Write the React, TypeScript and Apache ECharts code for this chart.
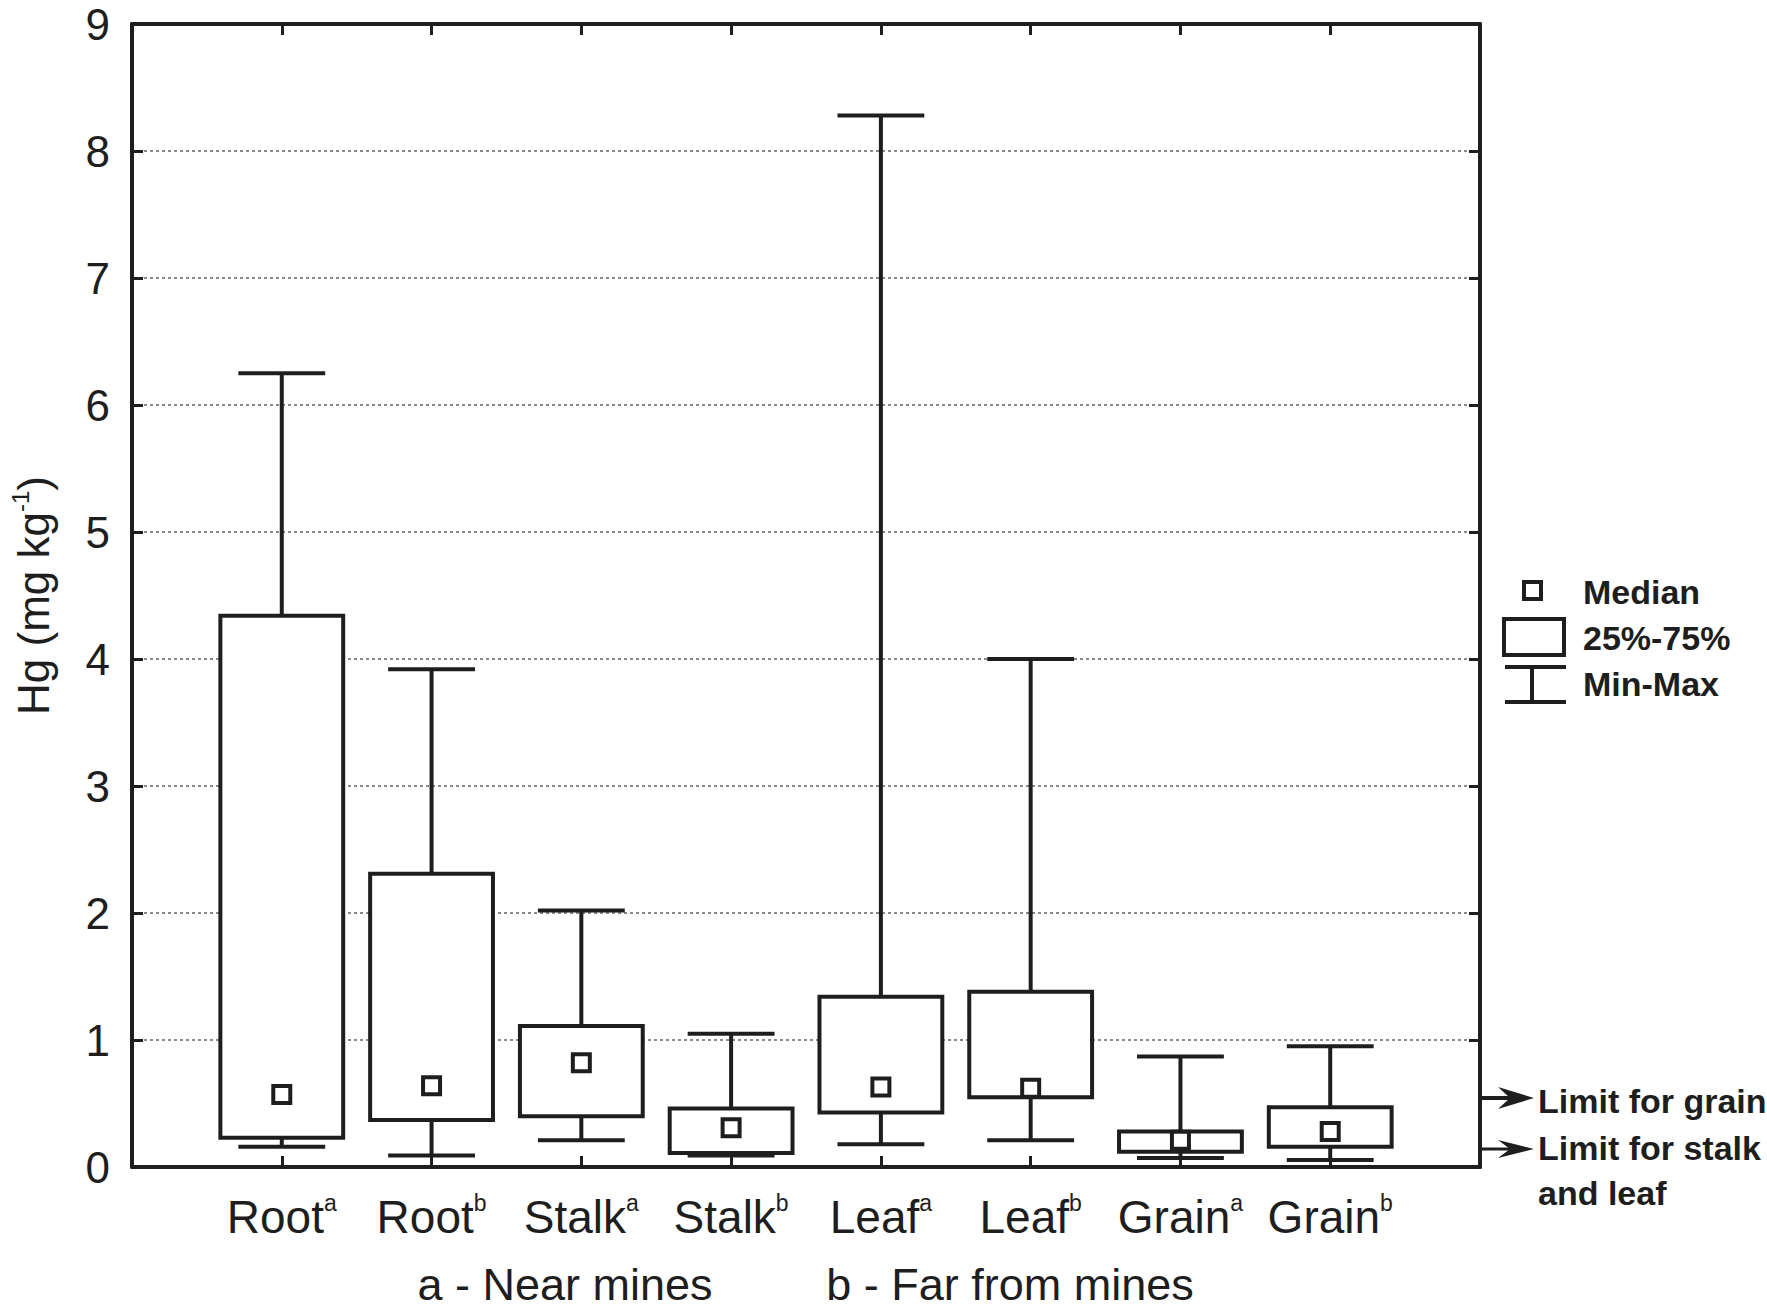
import React, { useEffect, useRef } from "react";
import * as echarts from "echarts";

const categories = ["Root", "Root", "Stalk", "Stalk", "Leaf", "Leaf", "Grain", "Grain"];
const groups = ["a", "b", "a", "b", "a", "b", "a", "b"];
const minVals = [0.16, 0.09, 0.21, 0.09, 0.18, 0.21, 0.07, 0.055];
const q1Vals = [0.23, 0.37, 0.4, 0.11, 0.43, 0.55, 0.12, 0.16];
const medianVals = [0.57, 0.64, 0.82, 0.31, 0.63, 0.62, 0.21, 0.28];
const q3Vals = [4.34, 2.31, 1.11, 0.46, 1.34, 1.38, 0.28, 0.47];
const maxVals = [6.25, 3.92, 2.02, 1.05, 8.28, 4.0, 0.87, 0.95];
const yMin = 0;
const yMax = 9;
const legendLabels = ["Median", "25%-75%", "Min-Max"];
const limitLabels = ["Limit for grain", "Limit for stalk", "and leaf"];
const groupNotes = ["a - Near mines", "b - Far from mines"];

const FONT = "'Liberation Sans', Arial, sans-serif";
const INK = "#1e1e1e";

export default function App() {
  const ref = useRef<HTMLDivElement>(null);
  useEffect(() => {
    document.body.style.margin = "0";
    const chart = echarts.init(ref.current!, null, { renderer: "svg" });
    const data = categories.map((_, i) => [i + 1, minVals[i], q1Vals[i], medianVals[i], q3Vals[i], maxVals[i]]);
    const lw = 4;
    const renderItem = (params: any, api: any) => {
      const x = api.value(0);
      const pMin = api.coord([x, api.value(1)]);
      const pQ1 = api.coord([x, api.value(2)]);
      const pMed = api.coord([x, api.value(3)]);
      const pQ3 = api.coord([x, api.value(4)]);
      const pMax = api.coord([x, api.value(5)]);
      const boxW = api.size([0.82, 0])[0];
      const capW = api.size([0.58, 0])[0];
      const cx = pQ1[0];
      const ls = { stroke: INK, lineWidth: lw, fill: null };
      const sq = 17;
      return {
        type: "group",
        children: [
          { type: "line", shape: { x1: cx, y1: pQ3[1], x2: cx, y2: pMax[1] }, style: ls },
          { type: "line", shape: { x1: cx, y1: pQ1[1], x2: cx, y2: pMin[1] }, style: ls },
          { type: "line", shape: { x1: cx - capW / 2, y1: pMax[1], x2: cx + capW / 2, y2: pMax[1] }, style: ls },
          { type: "line", shape: { x1: cx - capW / 2, y1: pMin[1], x2: cx + capW / 2, y2: pMin[1] }, style: ls },
          {
            type: "rect",
            shape: { x: cx - boxW / 2, y: pQ3[1], width: boxW, height: pQ1[1] - pQ3[1] },
            style: { stroke: INK, lineWidth: lw, fill: "#fff" },
          },
          {
            type: "rect",
            shape: { x: cx - sq / 2, y: pMed[1] - sq / 2, width: sq, height: sq },
            style: { stroke: INK, lineWidth: lw, fill: "#fff" },
          },
        ],
      };
    };
    const axisLine = { show: true, onZero: false, lineStyle: { color: INK, width: 4 } };
    const tick = { show: true, inside: true, length: 11, lineStyle: { color: INK, width: 3 } };
    const textBase = { fontFamily: FONT, color: INK };
    const legendX = 1583;
    const option: any = {
      animation: false,
      backgroundColor: "#fff",
      grid: { left: 132, right: 287, top: 24, bottom: 141, containLabel: false },
      xAxis: [
        {
          type: "value",
          min: 0,
          max: categories.length + 1,
          interval: 1,
          position: "bottom",
          axisLine,
          axisTick: tick,
          splitLine: { show: false },
          axisLabel: {
            margin: 24,
            formatter: (v: number) => {
              const i = Math.round(v) - 1;
              if (i < 0 || i >= categories.length) return "";
              return `{n|${categories[i]}}{s|${groups[i]}}`;
            },
            rich: {
              n: { ...textBase, fontSize: 46, lineHeight: 52 },
              s: { ...textBase, fontSize: 23, lineHeight: 34, verticalAlign: "top" },
            },
          },
        },
        {
          type: "value",
          min: 0,
          max: categories.length + 1,
          interval: 1,
          position: "top",
          axisLine,
          axisTick: tick,
          splitLine: { show: false },
          axisLabel: { show: false },
        },
      ],
      yAxis: [
        {
          type: "value",
          min: yMin,
          max: yMax,
          interval: 1,
          position: "left",
          axisLine,
          axisTick: tick,
          axisLabel: { ...textBase, fontSize: 44, margin: 22 },
          splitLine: { show: true, lineStyle: { color: "#8a8a8a", width: 2, type: [3, 3] } },
          name: "{n|Hg (mg kg}{s|-1}{n|)}",
          nameLocation: "middle",
          nameRotate: 90,
          nameGap: 74,
          nameTextStyle: {
            rich: {
              n: { ...textBase, fontSize: 44, lineHeight: 50 },
              s: { ...textBase, fontSize: 24, lineHeight: 30, verticalAlign: "top" },
            },
          },
        },
        {
          type: "value",
          min: yMin,
          max: yMax,
          interval: 1,
          position: "right",
          axisLine,
          axisTick: tick,
          axisLabel: { show: false },
          splitLine: { show: false },
        },
      ],
      series: [
        {
          type: "custom",
          xAxisIndex: 0,
          yAxisIndex: 0,
          renderItem,
          encode: { x: 0, y: [1, 2, 3, 4, 5] },
          data,
          z: 10,
        },
      ],
      graphic: [
        // legend
        { type: "rect", shape: { x: 1524, y: 582, width: 17, height: 17 }, style: { stroke: INK, lineWidth: 4, fill: "#fff" } },
        { type: "rect", shape: { x: 1504, y: 619, width: 60, height: 36 }, style: { stroke: INK, lineWidth: 4, fill: "#fff" } },
        { type: "line", shape: { x1: 1505, y1: 667, x2: 1566, y2: 667 }, style: { stroke: INK, lineWidth: 4 } },
        { type: "line", shape: { x1: 1505, y1: 702, x2: 1566, y2: 702 }, style: { stroke: INK, lineWidth: 4 } },
        { type: "line", shape: { x1: 1532, y1: 667, x2: 1532, y2: 702 }, style: { stroke: INK, lineWidth: 4 } },
        ...legendLabels.map((t, i) => ({
          type: "text",
          x: legendX,
          y: 592 + i * 46,
          style: { text: t, font: `bold 34px ${FONT}`, fill: INK, textAlign: "left", textVerticalAlign: "middle" },
        })),
        // limit arrows
        { type: "line", shape: { x1: 1480, y1: 1098, x2: 1515, y2: 1098 }, style: { stroke: INK, lineWidth: 4 } },
        {
          type: "polygon",
          shape: { points: [[1534, 1098], [1498, 1087], [1510, 1098], [1498, 1109]] },
          style: { fill: INK },
        },
        { type: "line", shape: { x1: 1480, y1: 1149, x2: 1515, y2: 1149 }, style: { stroke: INK, lineWidth: 3 } },
        {
          type: "polygon",
          shape: { points: [[1534, 1149], [1498, 1140], [1510, 1149], [1498, 1158]] },
          style: { fill: INK },
        },
        ...limitLabels.map((t, i) => ({
          type: "text",
          x: 1538,
          y: [1101, 1148, 1193][i],
          style: { text: t, font: `bold 34px ${FONT}`, fill: INK, textAlign: "left", textVerticalAlign: "middle" },
        })),
        // group notes
        ...groupNotes.map((t, i) => ({
          type: "text",
          x: [565, 1010][i],
          y: 1284,
          style: { text: t, font: `45px ${FONT}`, fill: INK, textAlign: "center", textVerticalAlign: "middle" },
        })),
      ],
    };
    chart.setOption(option);
    return () => chart.dispose();
  }, []);
  return <div ref={ref} style={{ width: 1767, height: 1308 }} />;
}
